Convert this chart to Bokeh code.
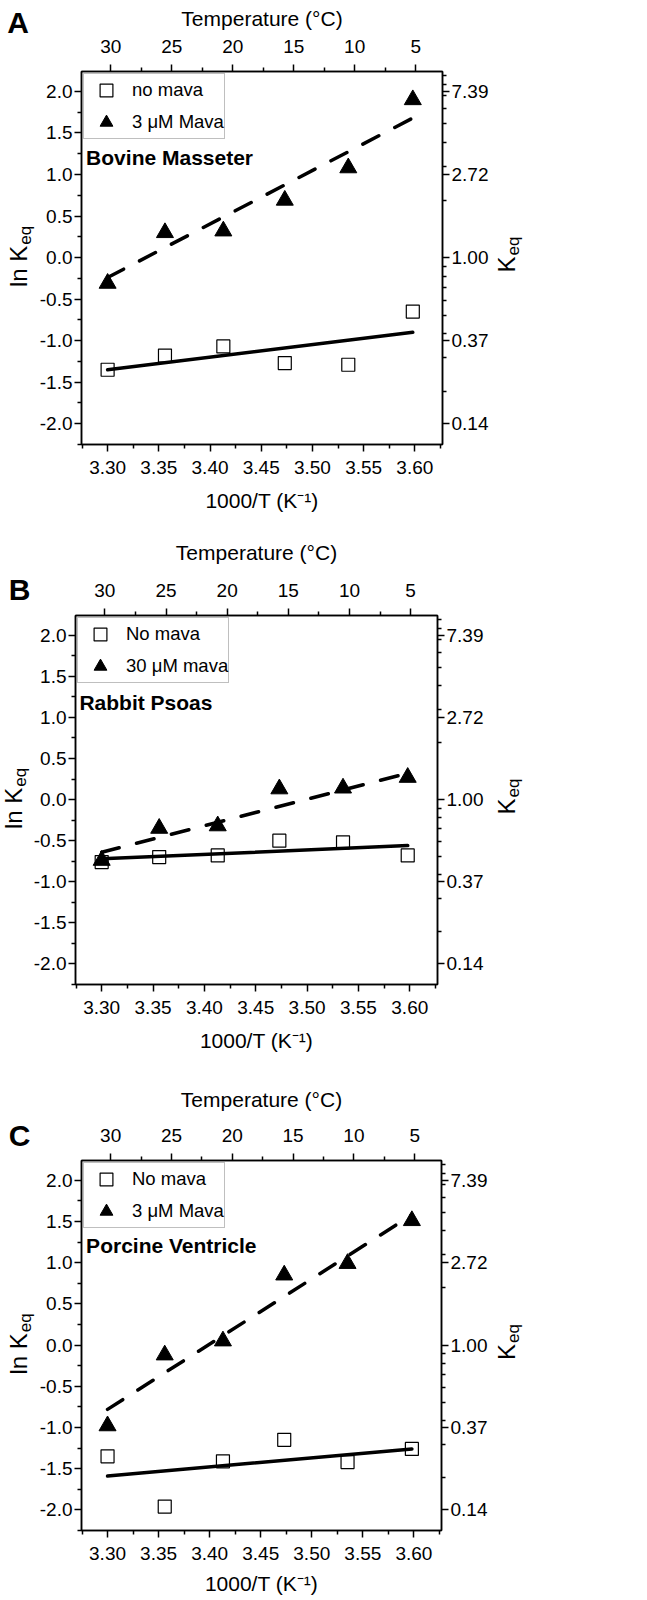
import math
from bokeh.plotting import figure
from bokeh.models import (Range1d, LinearAxis, FixedTicker, NumeralTickFormatter,
                          Legend, LegendItem, Label)
from bokeh.layouts import column, row
from bokeh.embed import file_html
from bokeh.resources import INLINE

FONT = "Liberation Sans"

# ---------------- data ----------------
inv_temp = [3.300, 3.356, 3.413, 3.473, 3.535, 3.598]      # 1000/T (K^-1)

a_no_mava = [-1.35, -1.18, -1.07, -1.27, -1.29, -0.65]
a_mava = [-0.31, 0.30, 0.32, 0.69, 1.08, 1.90]
a_fit_no = [-1.35, -0.90]
a_fit_mava = [-0.24, 1.68]

b_no_mava = [-0.76, -0.70, -0.68, -0.50, -0.52, -0.68]
b_mava = [-0.74, -0.35, -0.32, 0.13, 0.14, 0.27]
b_fit_no = [-0.72, -0.56]
b_fit_mava = [-0.64, 0.32]

c_no_mava = [-1.35, -1.96, -1.41, -1.15, -1.42, -1.26]
c_mava = [-0.98, -0.12, 0.05, 0.85, 0.99, 1.51]
c_fit_no = [-1.59, -1.26]
c_fit_mava = [-0.78, 1.58]

temp_ticks = [30, 25, 20, 15, 10, 5]
temp_minor = [27.5, 22.5, 17.5, 12.5, 7.5]
x_ticks = [3.30, 3.35, 3.40, 3.45, 3.50, 3.55, 3.60]
x_minor = [3.275, 3.325, 3.375, 3.425, 3.475, 3.525, 3.575, 3.625]
y_ticks = [-2.0, -1.5, -1.0, -0.5, 0.0, 0.5, 1.0, 1.5, 2.0]
y_minor = [-2.25, -1.75, -1.25, -0.75, -0.25, 0.25, 0.75, 1.25, 1.75]
keq_ticks = [-2.0, -1.0, 0.0, 1.0, 2.0]
keq_labels = ["0.14", "0.37", "1.00", "2.72", "7.39"]
keq_minor_values = [0.2, 0.3, 0.4, 0.5, 0.6, 0.7, 0.8, 0.9, 2, 3, 4, 5, 6, 7, 8, 9]

X_RANGE = (3.2745, 3.627)
T_RANGE = (32.4, 2.8)
Y_RANGE = (-2.25, 2.24)

TICK_PX = "19px"
AXLAB_PX = "21px"

# layout / text placement (page pixels); text anchors are text centres
panels = [
    dict(letter="A", tissue="Bovine Masseter", leg=("no mava", "3 \u03bcM Mava"),
         no=a_no_mava, mava=a_mava, fit_no=a_fit_no, fit_mava=a_fit_mava,
         fig_top=0, height=518, top=71, bottom=74,
         wl=36, left=42, fw=367, right=46, wr=40,
         t_std=12, t_lab_std=7, b_lab_std=12, l_std=2,
         letter_pos=(6.7, 21.5), tissue_pos=(82.7, 156.5), lnk_x=18.3, eq_x=25.4),
    dict(letter="B", tissue="Rabbit Psoas", leg=("No mava", "30 \u03bcM mava"),
         no=b_no_mava, mava=b_mava, fit_no=b_fit_no, fit_mava=b_fit_mava,
         fig_top=518, height=542, top=97, bottom=76,
         wl=30, left=42, fw=368, right=46, wr=45,
         t_std=12, t_lab_std=17, b_lab_std=12, l_std=2,
         letter_pos=(8.3, 588.5), tissue_pos=(76, 701.5), lnk_x=12.5, eq_x=20),
    dict(letter="C", tissue="Porcine Ventricle", leg=("No mava", "3 \u03bcM Mava"),
         no=c_no_mava, mava=c_mava, fit_no=c_fit_no, fit_mava=c_fit_mava,
         fig_top=1060, height=540, top=100, bottom=70,
         wl=36, left=42, fw=366, right=46, wr=41,
         t_std=12, t_lab_std=15, b_lab_std=9, l_std=2,
         letter_pos=(8.3, 1135), tissue_pos=(82.7, 1245), lnk_x=18.3, eq_x=25.4),
]
K_X, KEQ_X = 505.6, 513.0


def style_axis(ax, tick_std):
    ax.axis_line_color = "black"
    ax.axis_line_width = 1.5
    ax.major_tick_line_color = "black"
    ax.minor_tick_line_color = "black"
    ax.major_tick_line_width = 1.5
    ax.minor_tick_line_width = 1.5
    ax.major_tick_out = 7
    ax.major_tick_in = 0
    ax.minor_tick_out = 4
    ax.minor_tick_in = 0
    ax.major_label_text_font = FONT
    ax.major_label_text_font_size = TICK_PX
    ax.major_label_text_color = "black"
    ax.major_label_standoff = tick_std
    ax.axis_label_text_font = FONT
    ax.axis_label_text_font_size = AXLAB_PX
    ax.axis_label_text_font_style = "normal"
    ax.axis_label_text_color = "black"


def free_strip(width, height):
    s = figure(width=width, height=height,
               x_range=Range1d(0, width), y_range=Range1d(height, 0),
               output_backend="svg", toolbar_location=None, min_border=0,
               x_axis_location=None, y_axis_location=None)
    s.grid.visible = False
    s.outline_line_color = None
    s.background_fill_color = "white"
    s.border_fill_color = "white"
    return s


def aligned_strip(width, d, fh):
    s = figure(width=width, height=d["height"],
               x_range=Range1d(0, width),
               y_range=Range1d(d["top"] + fh, d["top"]),
               output_backend="svg", toolbar_location=None,
               min_border_left=0, min_border_right=0,
               min_border_top=d["top"], min_border_bottom=d["bottom"],
               x_axis_location=None, y_axis_location=None)
    s.grid.visible = False
    s.outline_line_color = None
    s.background_fill_color = "white"
    s.border_fill_color = "white"
    return s


def rot_label(x, y, text, size):
    return Label(x=x, y=y, text=text, angle=math.pi / 2, text_font=FONT,
                 text_font_size=f"{size}px", text_align="left",
                 text_baseline="middle", text_color="black")


def make_panel(d):
    H = d["height"]
    main_w = d["left"] + d["fw"] + d["right"]
    p = figure(width=main_w, height=H,
               x_range=Range1d(*X_RANGE), y_range=Range1d(*Y_RANGE),
               output_backend="svg", toolbar_location=None,
               min_border_left=d["left"], min_border_right=d["right"],
               min_border_top=d["top"], min_border_bottom=d["bottom"])
    p.grid.visible = False
    p.outline_line_color = "black"
    p.outline_line_width = 1.5
    p.background_fill_color = "white"
    p.border_fill_color = "white"

    fl = d["wl"] + d["left"]
    fw = d["fw"]
    ft = d["fig_top"] + d["top"]
    fh = H - d["top"] - d["bottom"]

    def dx(px):
        return X_RANGE[0] + (px - fl) / fw * (X_RANGE[1] - X_RANGE[0])

    def dy(py):
        return Y_RANGE[1] - (py - ft) / fh * (Y_RANGE[1] - Y_RANGE[0])

    bottom = p.below[0]
    bottom.ticker = FixedTicker(ticks=x_ticks, minor_ticks=x_minor)
    bottom.formatter = NumeralTickFormatter(format="0.00")
    bottom.axis_label = "1000/T (K\u207b\u00b9)"
    style_axis(bottom, 9)
    bottom.axis_label_standoff = d["b_lab_std"]

    left = p.left[0]
    left.ticker = FixedTicker(ticks=y_ticks, minor_ticks=y_minor)
    left.formatter = NumeralTickFormatter(format="0.0")
    style_axis(left, d["l_std"])

    p.extra_x_ranges = {"temp": Range1d(*T_RANGE)}
    top = LinearAxis(x_range_name="temp",
                     ticker=FixedTicker(ticks=temp_ticks, minor_ticks=temp_minor),
                     formatter=NumeralTickFormatter(format="0"),
                     axis_label="Temperature (\u00b0C)")
    style_axis(top, d["t_std"])
    top.axis_label_standoff = d["t_lab_std"]
    p.add_layout(top, "above")

    right = LinearAxis(ticker=FixedTicker(ticks=keq_ticks,
                                          minor_ticks=[math.log(v) for v in keq_minor_values]),
                       major_label_overrides=dict(zip(keq_ticks, keq_labels)))
    style_axis(right, 2)
    p.add_layout(right, "right")

    sq = p.scatter(inv_temp, d["no"], marker="square", size=13,
                   fill_color="white", line_color="black", line_width=1.2)
    tri = p.scatter(inv_temp, d["mava"], marker="triangle", size=17,
                    fill_color="black", line_color="black", line_width=1)
    fx = [inv_temp[0], inv_temp[-1]]
    p.line(fx, d["fit_no"], line_color="black", line_width=3.5, line_cap="round")
    p.line(fx, d["fit_mava"], line_color="black", line_width=3.5, line_cap="round",
           line_dash="18 18")

    legend = Legend(items=[LegendItem(label=d["leg"][0], renderers=[sq]),
                           LegendItem(label=d["leg"][1], renderers=[tri])],
                    location="top_left", margin=2, padding=0, spacing=-5,
                    glyph_width=44, glyph_height=32, label_standoff=4,
                    label_text_font=FONT, label_text_font_size="18.5px",
                    label_text_color="black",
                    border_line_color="#808080", border_line_width=1,
                    background_fill_color="white", background_fill_alpha=1)
    p.add_layout(legend)

    tx, ty = d["tissue_pos"]
    p.add_layout(Label(x=dx(tx), y=dy(ty), text=d["tissue"], text_font=FONT,
                       text_font_size="21px", text_font_style="bold",
                       text_align="left", text_baseline="middle", text_color="black"))

    # ---- left text strip: panel letter + "ln K_eq" ----
    ls = free_strip(d["wl"], H)
    lpx, lpy = d["letter_pos"]
    ls.add_layout(Label(x=lpx, y=lpy - d["fig_top"], text=d["letter"],
                        text_font=FONT, text_font_size="30px", text_font_style="bold",
                        text_align="left", text_baseline="middle", text_color="black"))
    fc_local = d["top"] + fh / 2
    main_size, sub_size = 24, 17
    start_l = fc_local + 29
    end_l = start_l - 1.723 * main_size - 1
    ls.add_layout(rot_label(d["lnk_x"], start_l, "ln K", main_size))
    ls.add_layout(rot_label(d["eq_x"], end_l, "eq", sub_size))

    # ---- right text strip: "K_eq" ----
    rs = aligned_strip(d["wr"], d, fh)
    off = d["wl"] + main_w
    start_r = fc_local + 14.5
    end_r = start_r - 0.667 * main_size - 1
    rs.add_layout(rot_label(K_X - off, start_r, "K", main_size))
    rs.add_layout(rot_label(KEQ_X - off, end_r, "eq", sub_size))

    return row(column(ls), p, rs)


rows = [make_panel(d) for d in panels]
layout = column(*rows)

open("out.html", "w").write(file_html(layout, INLINE))
